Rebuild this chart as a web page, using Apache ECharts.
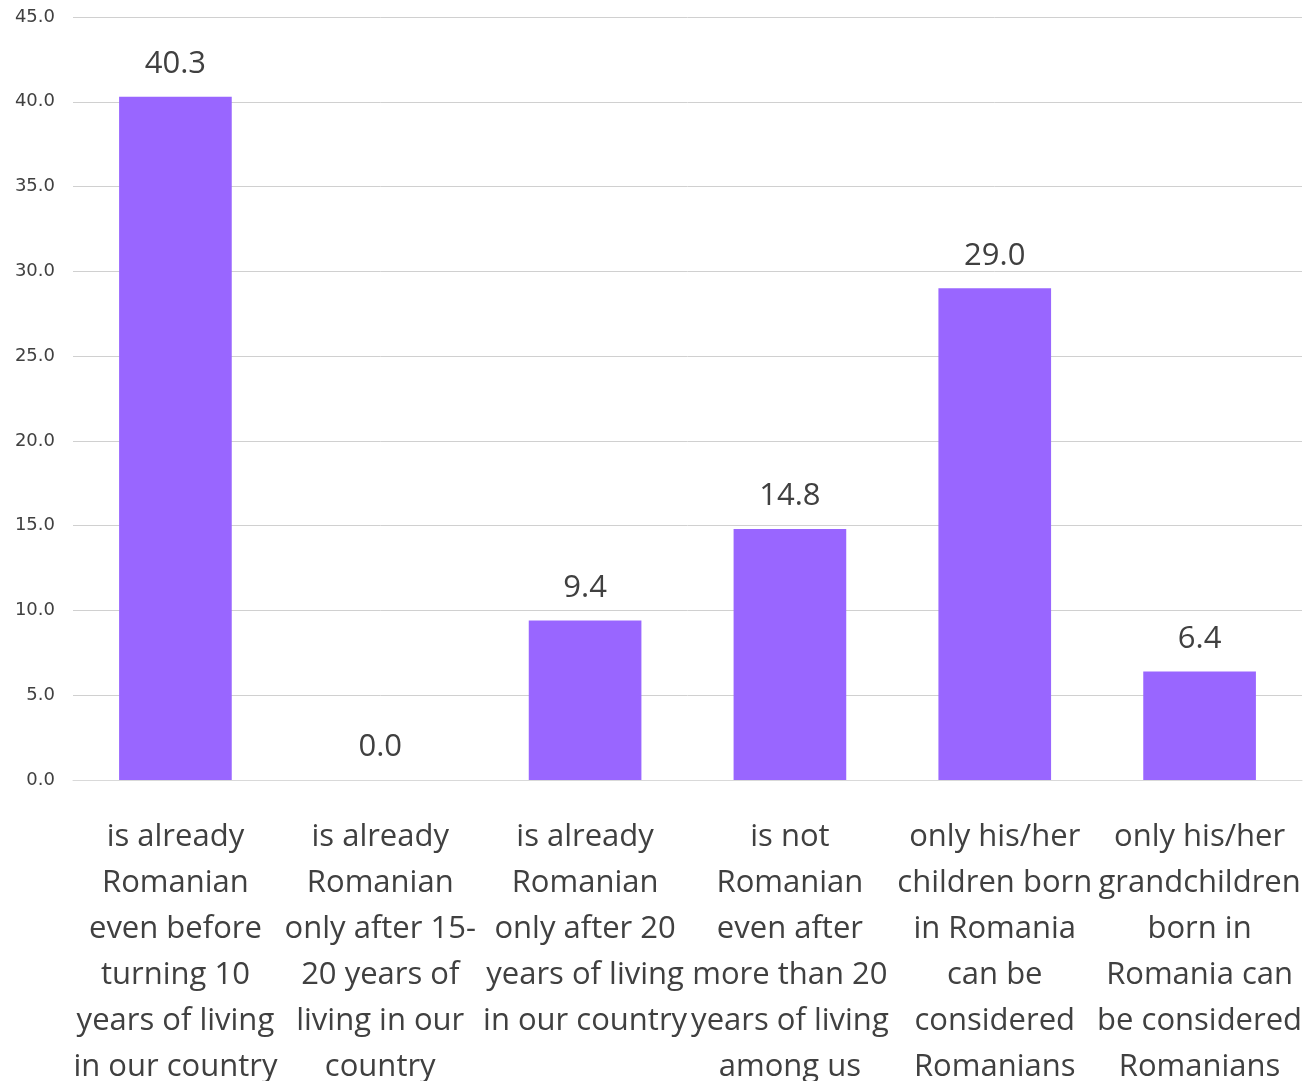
<!DOCTYPE html>
<html>
<head>
<meta charset="utf-8">
<script src="https://cdn.jsdelivr.net/npm/echarts@6/dist/echarts.min.js"></script>
<style>html,body{margin:0;padding:0;background:#fff;overflow:hidden;}#c{width:1304px;height:1081px;}</style>
</head>
<body>
<div id="c"></div>
<script>
const categories = [
  'is already\nRomanian\neven before\nturning 10\nyears of living\nin our country',
  'is already\nRomanian\nonly after 15-\n20 years of\nliving in our\ncountry',
  'is already\nRomanian\nonly after 20\nyears of living\nin our country',
  'is not\nRomanian\neven after\nmore than 20\nyears of living\namong us',
  'only his/her\nchildren born\nin Romania\ncan be\nconsidered\nRomanians',
  'only his/her\ngrandchildren\nborn in\nRomania can\nbe considered\nRomanians'
];
const values = [40.3, 0.0, 9.4, 14.8, 29.0, 6.4];
const yMin = 0, yMax = 45, yStep = 5;

const chart = echarts.init(document.getElementById('c'), null, {renderer: 'canvas', width: 1304, height: 1081});
chart.setOption({
  animation: false,
  backgroundColor: '#ffffff',
  grid: {left: 73, width: 1229, top: 17, height: 763, containLabel: false, outerBoundsMode: 'none'},
  xAxis: {
    type: 'category',
    data: categories,
    axisLine: {show: true, lineStyle: {color: '#d9d9d9', width: 1}},
    axisTick: {show: false},
    axisLabel: {
      interval: 0,
      margin: 34,
      color: '#404040',
      fontFamily: 'Open Sans',
      fontSize: 31,
      lineHeight: 46
    }
  },
  yAxis: {
    type: 'value',
    min: yMin, max: yMax, interval: yStep,
    axisLine: {show: false},
    axisTick: {show: false},
    splitLine: {lineStyle: {color: '#d0d0d0', width: 1}},
    axisLabel: {
      margin: 18,
      color: '#404040',
      fontFamily: 'DejaVu Sans',
      fontSize: 18,
      formatter: v => v.toFixed(1)
    }
  },
  series: [{
    type: 'bar',
    data: values,
    barWidth: '55%',
    itemStyle: {color: '#9966ff'},
    label: {
      show: true,
      position: 'top',
      distance: 17,
      color: '#404040',
      fontFamily: 'Open Sans',
      fontSize: 31,
      formatter: p => p.value.toFixed(1)
    }
  }]
});
</script>
</body>
</html>
